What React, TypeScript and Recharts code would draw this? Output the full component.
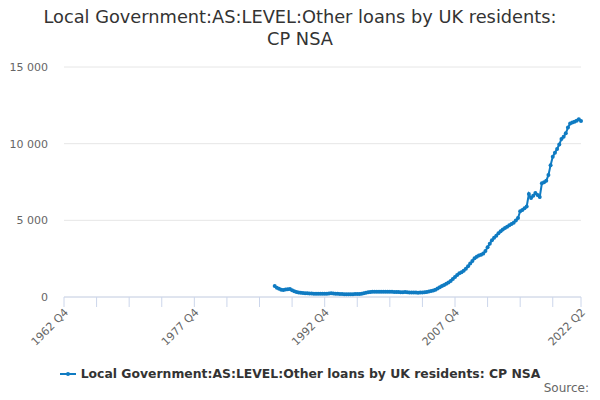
import { LineChart, Line, XAxis, YAxis, CartesianGrid } from 'recharts';

const TITLE = ['Local Government:AS:LEVEL:Other loans by UK residents:', 'CP NSA'];
const SERIES_NAME = 'Local Government:AS:LEVEL:Other loans by UK residents: CP NSA';
const LINE_COLOR = '#0f7bc2';

// quarterly axis runs from 1962 Q4 to 2022 Q2
const firstQuarter = { year: 1962, q: 4 };
const lastQuarter = { year: 2022, q: 2 };
const quarters: string[] = [];
for (let y = firstQuarter.year, q = firstQuarter.q; y < lastQuarter.year || (y === lastQuarter.year && q <= lastQuarter.q); ) {
  quarters.push(`${y} Q${q}`);
  q++;
  if (q > 4) { q = 1; y++; }
}

const labelledTicks = ['1962 Q4', '1977 Q4', '1992 Q4', '2007 Q4', '2022 Q2'];
const tickStep = 15;
const yTicks = [0, 5000, 10000, 15000];

// series begins in 1987 Q1 (no data before)
const firstDataQuarter = '1987 Q1';
const loanValues = [
  720, 600, 540, 480, 460, 490, 510, 520, 440, 380,
  320, 290, 270, 260, 250, 240, 230, 225, 220, 215,
  215, 210, 205, 210, 220, 235, 240, 230, 220, 215,
  200, 190, 180, 175, 175, 180, 185, 190, 195, 200,
  215, 240, 280, 310, 330, 335, 340, 345, 345, 340,
  350, 345, 340, 345, 335, 330, 325, 320, 315, 310,
  320, 305, 300, 295, 300, 290, 285, 295, 300, 315,
  330, 360, 390, 430, 480, 560, 640, 720, 790, 860,
  940, 1050, 1180, 1300, 1430, 1550, 1620, 1720, 1850, 2000,
  2180, 2340, 2520, 2620, 2700, 2760, 2830, 3000, 3250, 3480,
  3700, 3860, 4000, 4150, 4280, 4400, 4500, 4580, 4680, 4760,
  4850, 4990, 5150, 5600, 5680, 5780, 5900, 6720, 6450, 6600,
  6780, 6650, 6520, 7420, 7480, 7580, 7950, 8600, 9150, 9400,
  9650, 9950, 10300, 10450, 10680, 11050, 11320, 11380, 11430, 11500,
  11600, 11480,
];

const offset = quarters.indexOf(firstDataQuarter);
const data = quarters.map((q, i) => ({
  q,
  value: i >= offset && i - offset < loanValues.length ? loanValues[i - offset] : null,
}));

const xTicks = quarters.filter((_, i) => i % tickStep === 0 || i === quarters.length - 1);

const fmt = (v: number) => String(v).replace(/\B(?=(\d{3})+(?!\d))/g, ' ');

const XTick = ({ x, y, payload }: any) => (
  <g>
    <line x1={x} y1={y} x2={x} y2={y + 10} stroke="#ccd6eb" strokeWidth={1} />
    {labelledTicks.includes(payload.value) && (
      <text
        x={0}
        y={0}
        transform={`translate(${x + 5},${y + 16}) rotate(-45)`}
        textAnchor="end"
        fontSize={11}
        fill="#666666"
      >
        {payload.value}
      </text>
    )}
  </g>
);

const YTick = ({ y, payload }: any) => (
  <text x={48} y={y + 4} textAnchor="end" fontSize={11} fill="#666666">
    {fmt(payload.value)}
  </text>
);

export default function App() {
  return (
    <div style={{ position: 'absolute', left: 0, top: 0, width: 600, height: 400, background: '#fff', fontFamily: '"DejaVu Sans", sans-serif' }}>
      <div style={{ position: 'absolute', top: 6, left: 0, width: 600, textAlign: 'center', fontSize: 17.8, lineHeight: '22px', color: '#333333' }}>
        {TITLE.map((t) => (
          <div key={t}>{t}</div>
        ))}
      </div>

      <LineChart width={600} height={400} data={data} margin={{ top: 67, right: 19, left: 0, bottom: 0 }}>
        <CartesianGrid horizontal vertical={false} stroke="#e6e6e6" />
        <XAxis
          dataKey="q"
          ticks={xTicks}
          interval={0}
          height={103}
          tickLine={false}
          tickSize={0}
          tickMargin={0}
          axisLine={{ stroke: '#ccd6eb' }}
          tick={<XTick />}
        />
        <YAxis
          domain={[0, 15000]}
          ticks={yTicks}
          width={64}
          axisLine={false}
          tickLine={false}
          tick={<YTick />}
        />
        <Line
          type="linear"
          dataKey="value"
          stroke={LINE_COLOR}
          strokeWidth={2}
          dot={{ r: 2, fill: LINE_COLOR, stroke: 'none' }}
          connectNulls={false}
          isAnimationActive={false}
        />
      </LineChart>

      <div style={{ position: 'absolute', top: 366, left: 0, width: 600, display: 'flex', justifyContent: 'center', alignItems: 'center' }}>
        <svg width={16} height={12} style={{ marginRight: 5 }}>
          <line x1={0} y1={6} x2={16} y2={6} stroke={LINE_COLOR} strokeWidth={2} />
          <circle cx={8} cy={6} r={2} fill={LINE_COLOR} />
        </svg>
        <span style={{ fontSize: 12.4, fontWeight: 'bold', color: '#333333' }}>{SERIES_NAME}</span>
      </div>

      <div style={{ position: 'absolute', top: 381, right: 11, fontSize: 12, color: '#666666' }}>Source:</div>
    </div>
  );
}
